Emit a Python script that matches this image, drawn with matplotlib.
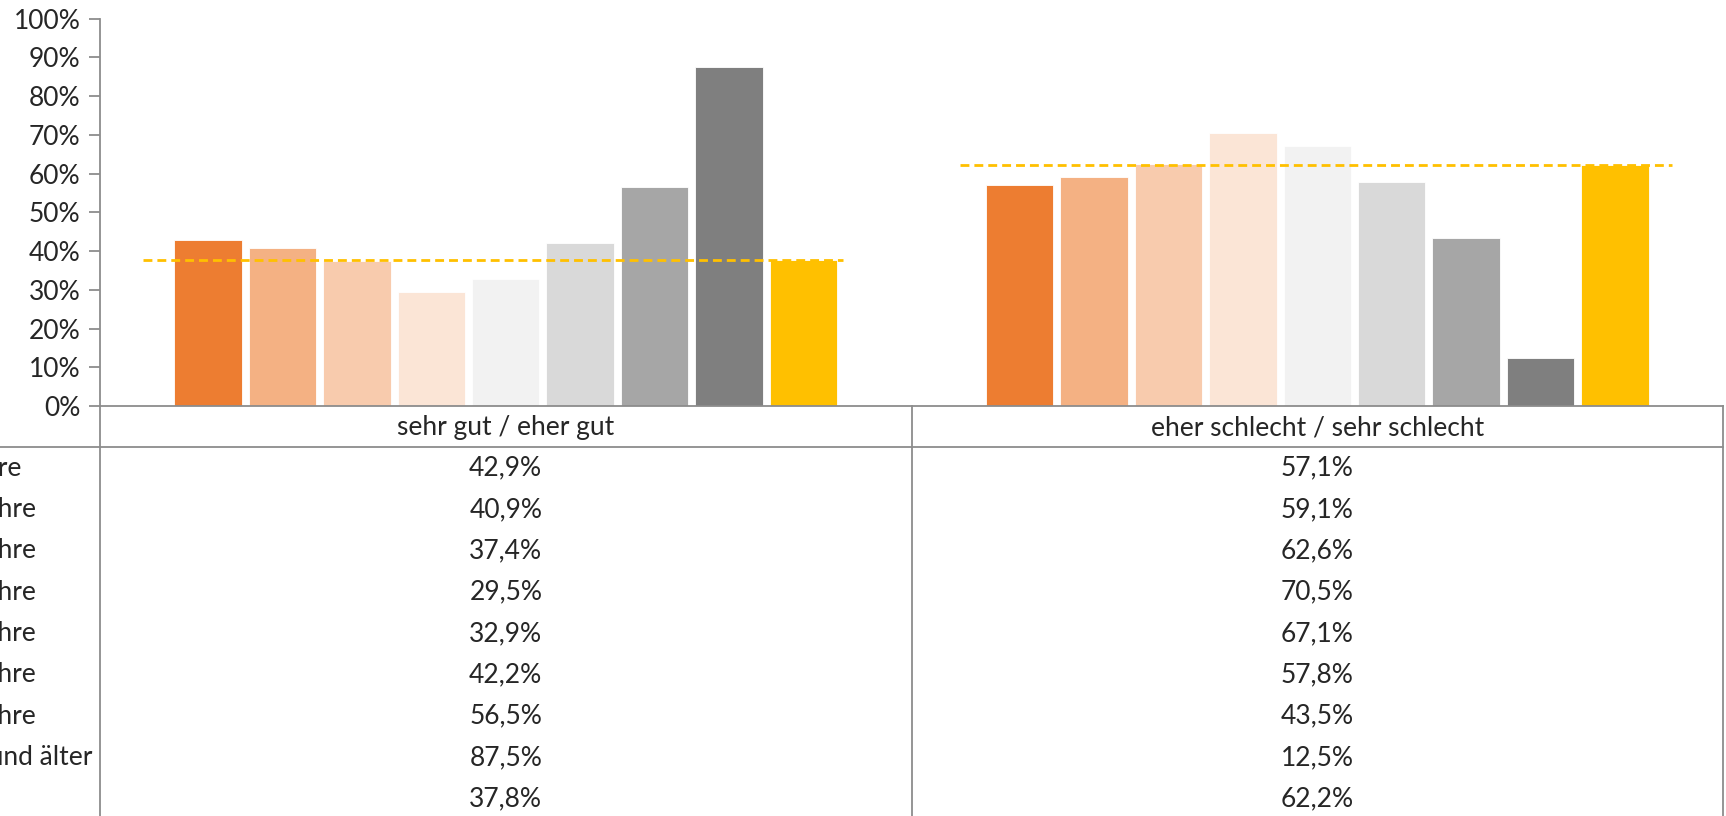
import matplotlib.pyplot as plt
from matplotlib.lines import Line2D

plt.rcParams['font.family'] = ['Lato', 'DejaVu Sans']

# categories (columns of the data table)
categories = ['sehr gut / eher gut', 'eher schlecht / sehr schlecht']

# series (rows of the data table)
series_labels = ['bis 24 Jahre', '25 - 34 Jahre', '35 - 44 Jahre', '45 - 54 Jahre',
                 '55 - 64 Jahre', '65 - 74 Jahre', '75 - 84 Jahre', '85 Jahre und älter',
                 'Gesamt']
gut = [42.9, 40.9, 37.4, 29.5, 32.9, 42.2, 56.5, 87.5, 37.8]
schlecht = [57.1, 59.1, 62.6, 70.5, 67.1, 57.8, 43.5, 12.5, 62.2]
values = [gut, schlecht]

# average line (Gesamt)
average = [37.8, 62.2]

colors = ['#ED7D31', '#F4B183', '#F8CBAD', '#FBE5D6', '#F2F2F2',
          '#D9D9D9', '#A6A6A6', '#7F7F7F', '#FFC000']

W, H = 1726, 816
fig = plt.figure(figsize=(W / 100, H / 100), dpi=100)
ax = fig.add_axes([100 / W, 1 - 406 / H, 1623 / W, (406 - 18.7) / H])

n = len(series_labels)
pitch = 0.0917
width = 0.083
for i in range(n):
    xs = [c + (i - (n - 1) / 2) * pitch for c in range(len(categories))]
    ys = [values[c][i] / 100 for c in range(len(categories))]
    ax.bar(xs, ys, width=width, color=colors[i], edgecolor='white', linewidth=0.6, zorder=2)

# dashed average lines
spans = [(-0.447, 0.415), (-0.44, 0.437)]
for c, avg in enumerate(average):
    ax.plot([c + spans[c][0], c + spans[c][1]], [avg / 100, avg / 100],
            color='#FFC000', linestyle=(0, (3.2, 1.8)), linewidth=2, zorder=3)

fs = 19
txt = '#262626'
ax.set_xlim(-0.5, 1.5)
ax.set_ylim(0, 1)
ax.set_yticks([i / 10 for i in range(11)])
ax.set_yticklabels([f'{i * 10}%' for i in range(11)], fontsize=fs, color=txt)
ax.set_xticks([])
for s in ['top', 'right']:
    ax.spines[s].set_visible(False)
grey = '#8C8C8C'
ax.spines['left'].set_color(grey)
ax.spines['bottom'].set_color(grey)
ax.spines['left'].set_linewidth(1.3)
ax.spines['bottom'].set_linewidth(1.3)
ax.tick_params(axis='y', length=8, width=1.3, color=grey, pad=6)

# data table below the axes
px = 1 / 387.3  # axes fraction per pixel (vertical)
hx = 1 / 1623   # axes fraction per pixel (horizontal)
tr = ax.transAxes
for xa in [0, 0.5, 1]:
    ax.add_line(Line2D([xa, xa], [0, -1.2], transform=tr, color=grey,
                       linewidth=1.3, clip_on=False))
ax.add_line(Line2D([-100 * hx, 1], [-41 * px, -41 * px], transform=tr, color=grey,
                   linewidth=1.3, clip_on=False))

for c, cat in enumerate(categories):
    ax.text(0.25 + 0.5 * c, -22 * px, cat, transform=tr, ha='center', va='center',
            fontsize=fs, color=txt)
    for r in range(n):
        y = -(62 + 41.35 * r) * px
        ax.text(0.25 + 0.5 * c, y, f'{values[c][r]:.1f}%'.replace('.', ','), transform=tr,
                ha='center', va='center', fontsize=fs, color=txt)

for r, lab in enumerate(series_labels):
    y = -(62 + 41.35 * r) * px
    ax.text(-218 * hx, y, lab, transform=tr, ha='left', va='center',
            fontsize=fs, color=txt)

fig.savefig('out.png', dpi=100)
